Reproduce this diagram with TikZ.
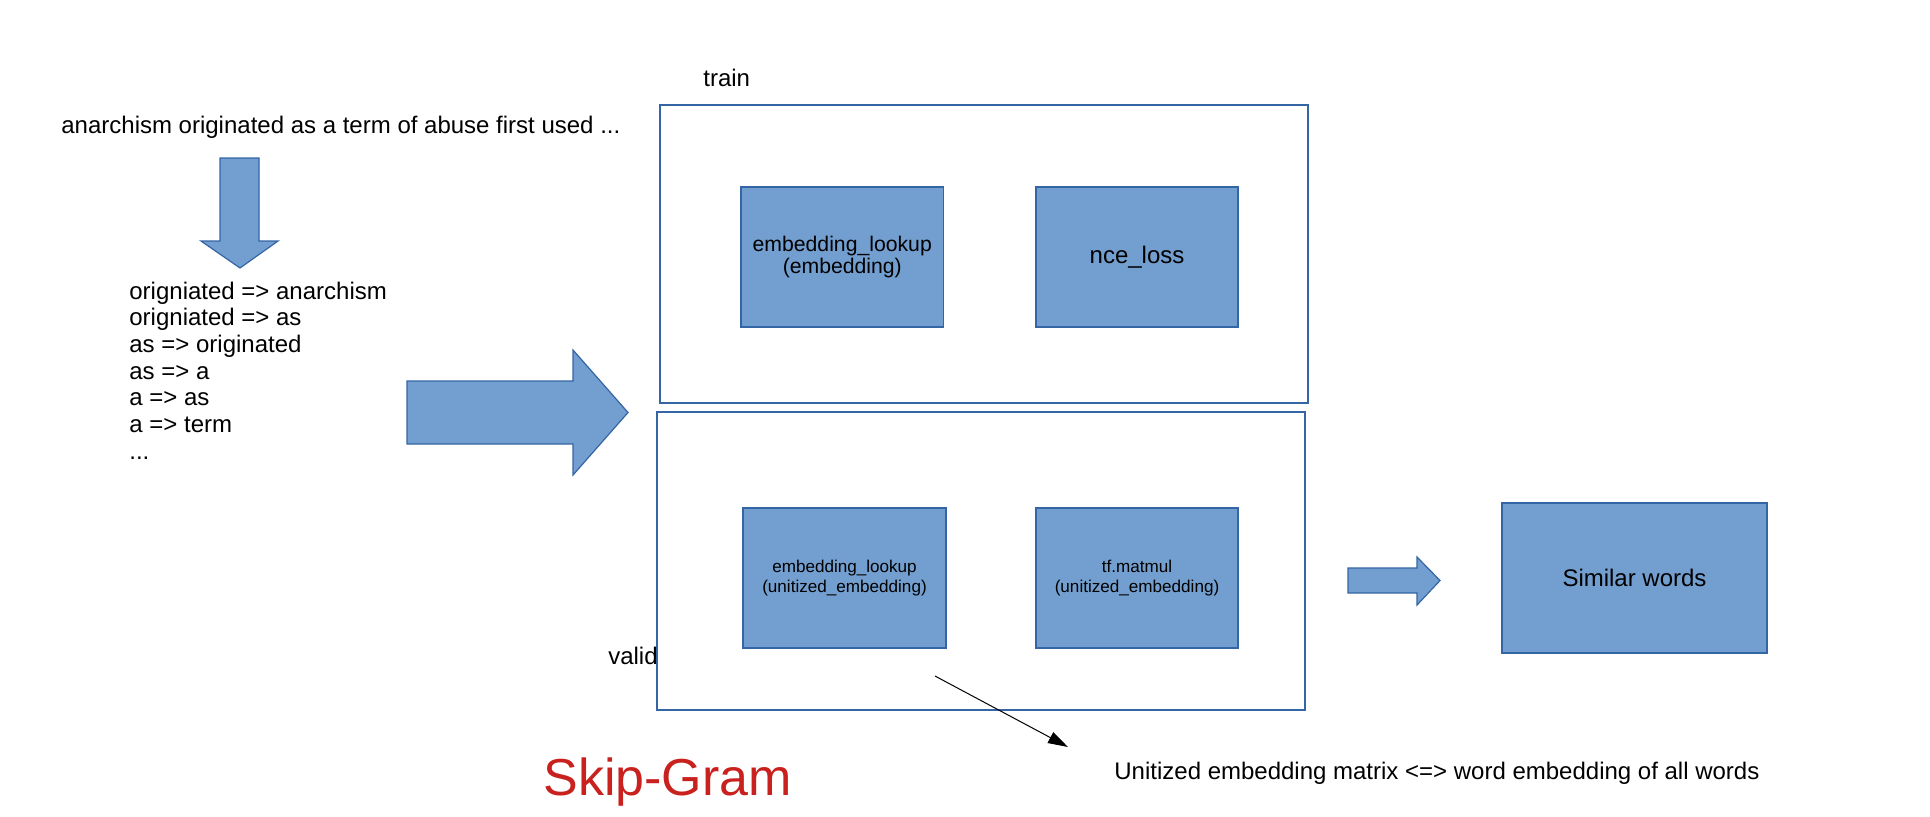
\documentclass[tikz,border=0pt]{standalone}
\usepackage{fontspec}
\setmainfont{Liberation Sans}
\usetikzlibrary{arrows.meta}
\definecolor{boxfill}{HTML}{729FCF}
\definecolor{boxline}{HTML}{3465A4}
\definecolor{skipred}{HTML}{C9211E}
\begin{document}
\begin{tikzpicture}[x=0.5pt,y=-0.5pt,
  blockbox/.style={draw=boxline,fill=boxfill,line width=0.6pt,inner sep=0pt,align=center},
  frame/.style={draw=boxline,line width=0.6pt,inner sep=0pt},
  blockarrow/.style={draw=boxline,fill=boxfill,line width=0.6pt,line join=miter},
  plain/.style={inner sep=0pt,font=\fontsize{12}{13.8}\selectfont}]
\useasboundingbox (0,0) rectangle (1930,816);
% text on the left
\node[plain,anchor=base west] (title) at (61,133) {anarchism originated as a term of abuse first used ...};
\node[plain,anchor=base west] (pairs) at (129,299) {\fontsize{12}{13.35}\selectfont\renewcommand\arraystretch{1}%
\begin{tabular}[t]{@{}l@{}}origniated => anarchism\\origniated => as\\as => originated\\as => a\\a => as\\a => term\\...\end{tabular}};
% block arrows
\draw[blockarrow] (220,158) -- (259,158) -- (259,241) -- (278,241) -- (240,268) -- (201,241) -- (220,241) -- cycle;
\draw[blockarrow] (407,381) -- (573,381) -- (573,350) -- (628,412.5) -- (573,475) -- (573,444) -- (407,444) -- cycle;
\draw[blockarrow] (1348,568) -- (1417,568) -- (1417,557) -- (1440,580.5) -- (1417,605) -- (1417,593) -- (1348,593) -- cycle;
% frames
\node[frame,minimum width=324pt,minimum height=149pt] (train) at (984,254) {};
\node[frame,minimum width=324pt,minimum height=149pt] (valid) at (981,561) {};
\node[plain,anchor=base west] (trainlbl) at (703,86.5) {train};
\node[plain,anchor=base east] (validlbl) at (658,664) {valid};
% inner boxes
\node[blockbox,minimum width=101.25pt,minimum height=70pt,font=\fontsize{10.6}{11.35}\selectfont] (emb) at (842.25,257) {embedding\_lookup\\(embedding)};
\node[blockbox,minimum width=101pt,minimum height=70pt,font=\fontsize{12}{13.8}\selectfont] (nce) at (1137,257) {nce\_loss};
\node[blockbox,minimum width=101.5pt,minimum height=70pt,font=\fontsize{8.55}{9.6}\selectfont] (vemb) at (844.5,578) {embedding\_lookup\\(unitized\_embedding)};
\node[blockbox,minimum width=101pt,minimum height=70pt,font=\fontsize{8.55}{9.6}\selectfont] (matmul) at (1137,578) {tf.matmul\\(unitized\_embedding)};
\node[blockbox,minimum width=132.5pt,minimum height=75pt,font=\fontsize{12}{13.8}\selectfont] (similar) at (1634.5,578) {Similar words};
% note
\coordinate (ls) at (935,676);
\coordinate (le) at (1068,747);
\draw[line width=0.5pt,-{Triangle[length=10pt,width=6pt]}] (ls) -- (le);
\node[plain,anchor=base west] (note) at (1114,779) {Unitized embedding matrix <=> word embedding of all words};
\node[inner sep=0pt,anchor=base west,text=skipred,font=\fontsize{26}{30}\selectfont] (skip) at (543,795) {Skip-Gram};
\end{tikzpicture}
\end{document}
